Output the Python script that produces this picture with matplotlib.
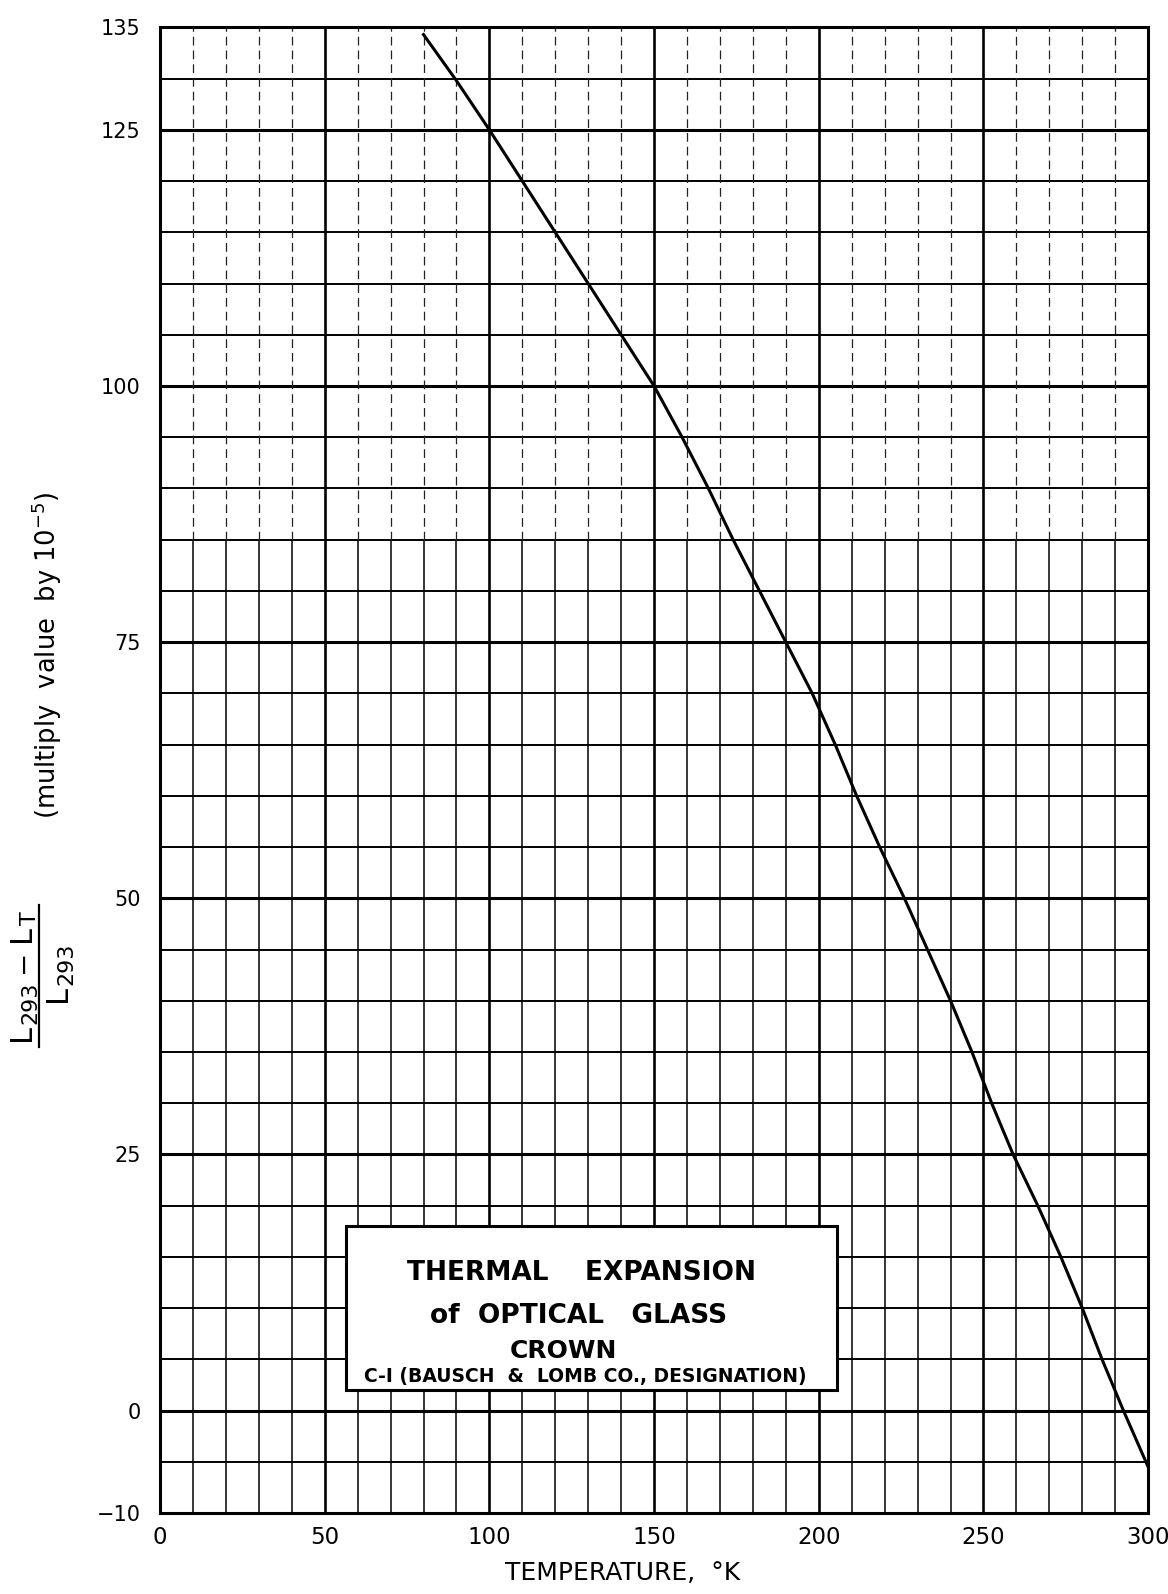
import numpy as np
import matplotlib
matplotlib.use("Agg")
import matplotlib.pyplot as plt
from matplotlib.patches import Rectangle
from matplotlib.lines import Line2D

# Thermal contraction of crown glass C-1, relative to 293 K (units of 1e-5)
temperature_K = [80, 90, 100, 110, 120, 130, 140, 150, 158.5, 166.5, 174, 182,
                 190, 198, 205, 211.5, 218.5, 226, 233, 240, 246.5, 252.5,
                 259, 266.5, 273.5, 280, 286, 292.5, 300]
contraction = [134.3, 129.8, 125, 120, 115, 110, 105, 100, 95, 90, 85, 80,
               75, 70, 65, 60, 55, 50, 45, 40, 35, 30,
               25, 20, 15, 10, 5, 0, -5.5]

x_ticks = [0, 50, 100, 150, 200, 250, 300]
y_ticks = [-10, 0, 25, 50, 75, 100, 125, 135]
x_grid = list(range(0, 301, 10))
y_grid = list(range(-10, 136, 5))

plt.rcParams["font.family"] = ["DejaVu Sans"]
plt.rcParams["mathtext.fontset"] = "dejavusans"

W, H = 1168, 1594
fig = plt.figure(figsize=(W / 100, H / 100), dpi=100)
ax = fig.add_axes([0.137, 0.0508, 0.846, 0.932])
ax.set_xlim(0, 300)
ax.set_ylim(-10, 135)

# graph-paper ruling
for y in y_grid:
    heavy = (y % 25 == 0)
    ax.axhline(y, color="black", lw=2.2 if heavy else 1.4, zorder=1)
for x in x_grid:
    if x % 50 == 0:
        ax.axvline(x, color="black", lw=1.9, zorder=1)
    else:
        ax.vlines(x, -10, 85, color="black", lw=1.1, zorder=1)
        ax.vlines(x, 85, 135, color="#222222", lw=0.9, zorder=1,
                  linestyles=(0, (7, 4)))

ax.plot(temperature_K, contraction, color="black", lw=2.2, zorder=4)

for s in ax.spines.values():
    s.set_linewidth(2.2)

ax.set_xticks(x_ticks)
ax.set_yticks(y_ticks)
ax.set_xticklabels([str(v) for v in x_ticks])
ax.set_yticklabels([str(v).replace("-", "\u2212") for v in y_ticks])
ax.tick_params(axis="both", length=0)
ax.tick_params(axis="x", pad=9, labelsize=16.5)
ax.tick_params(axis="y", pad=14, labelsize=15)

# title box
ax.add_patch(Rectangle((56.5, 2.0), 149.0, 16.0, facecolor="white",
                       edgecolor="black", lw=2.2, zorder=3))
ax.text(128, 13.4, "THERMAL    EXPANSION", ha="center", va="center",
        fontsize=19, fontweight="bold", zorder=5)
ax.text(127, 9.2, "of  OPTICAL   GLASS", ha="center", va="center",
        fontsize=19, fontweight="bold", zorder=5)
ax.text(122.5, 5.8, "CROWN", ha="center", va="center",
        fontsize=18, fontweight="bold", zorder=5)
ax.text(129, 3.3, "C-I (BAUSCH  &  LOMB CO., DESIGNATION)", ha="center",
        va="center", fontsize=13.5, fontweight="bold", zorder=5)

fig.text(623 / W, 1 - 1573 / H, "TEMPERATURE,  \u00b0K", ha="center",
         va="center", fontsize=18)
fig.text(47 / W, 1 - 655 / H, r"(multiply  value  by $\mathrm{10^{-5}}$)",
         rotation=90, ha="center", va="center", fontsize=18.5)

# vertical fraction label built from pieces (text, size, baseline x, gap after)
renderer = fig.canvas.get_renderer()


def stacked(pieces, y_center):
    items = []
    for s, size, bx, gap in pieces:
        t = fig.text(0, 0, s, rotation=90, rotation_mode="anchor",
                     ha="left", va="baseline", fontsize=size)
        ln = t.get_window_extent(renderer).height
        items.append((t, bx, ln, gap))
    total = sum(ln + gap for _, _, ln, gap in items) - items[-1][3]
    y = y_center + total / 2
    for t, bx, ln, gap in items:
        t.set_position((bx / W, 1 - y / H))
        y -= ln + gap
    return total


num_len = stacked([("L", 22, 30, 0), ("293", 16, 36, 8), ("\u2212", 20, 31, 8),
                   ("L", 22, 30, 0), ("T", 16, 36, 0)], 976)
stacked([("L", 22, 66, 0), ("293", 16, 72, 2)], 972)
half = num_len / 2 + 6
fig.add_artist(Line2D([39 / W, 39 / W], [1 - (976 + half) / H, 1 - (976 - half) / H],
                      color="black", lw=1.6))

fig.savefig("out.png", dpi=100, facecolor="white")
